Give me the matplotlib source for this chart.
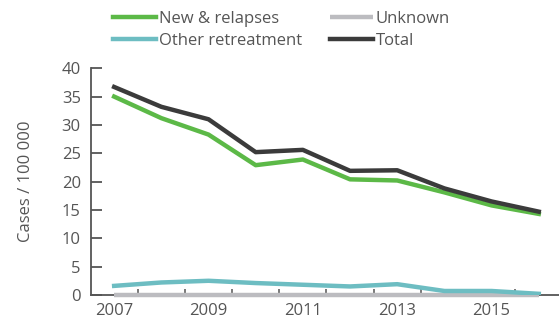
import numpy as np
import matplotlib.pyplot as plt

# Data
years = [2007, 2008, 2009, 2010, 2011, 2012, 2013, 2014, 2015, 2016]
new_relapses = [35.0, 31.2, 28.3, 22.9, 23.9, 20.4, 20.2, 18.1, 15.8, 14.3]
other_retreat = [1.6, 2.2, 2.5, 2.1, 1.8, 1.5, 1.9, 0.7, 0.7, 0.2]
unknown = [0, 0, 0, 0, 0, 0, 0, 0, 0, 0]
total = [36.7, 33.2, 31.0, 25.2, 25.6, 21.9, 22.0, 18.8, 16.5, 14.7]
xlabels = ['2007', '2009', '2011', '2013', '2015']

txt = '#555555'
plt.rcParams['font.family'] = ['Open Sans', 'DejaVu Sans']

fig = plt.figure(figsize=(5.59, 3.22), dpi=100)
ax = fig.add_axes([0.162, 0.084, 0.844, 0.704])

ax.plot(years, unknown, color='#bcbcc0', lw=3.2, solid_capstyle='butt',
        label='Unknown', zorder=3, clip_on=False)
ax.plot(years, other_retreat, color='#6dbdc2', lw=3.2, label='Other retreatment', zorder=3)
ax.plot(years, new_relapses, color='#5cb947', lw=3.2, label='New & relapses', zorder=4)
ax.plot(years, total, color='#3b3b3b', lw=3.2, label='Total', zorder=5)

ax.set_xlim(2006.5, 2016.5)
ax.set_ylim(0, 40)
ax.set_yticks(np.arange(0, 41, 5))
ax.set_xticks([int(s) for s in xlabels])
ax.set_xticklabels(xlabels)
ax.set_xticks(np.arange(2007.5, 2016, 1), minor=True)

for s in ['top', 'right']:
    ax.spines[s].set_visible(False)
for s in ['left', 'bottom']:
    ax.spines[s].set_color(txt)
    ax.spines[s].set_linewidth(1.3)

ax.tick_params(axis='y', direction='in', length=8, width=1.3, color=txt,
               labelcolor=txt, labelsize=12, pad=7)
ax.tick_params(axis='x', which='major', length=0, labelcolor=txt, labelsize=12, pad=6)
ax.tick_params(axis='x', which='minor', direction='in', length=4, width=1.1, color=txt)
ax.set_ylabel('Cases / 100 000', color=txt, fontsize=12, labelpad=20)

h, l = ax.get_legend_handles_labels()
order = [2, 1, 0, 3]
leg = fig.legend([h[i] for i in order], [l[i] for i in order], ncol=2,
                 loc='upper left', bbox_to_anchor=(0.175, 1.012), frameon=False,
                 fontsize=12, handlelength=2.6, handletextpad=0.15,
                 columnspacing=1.7, labelspacing=0.35)
for t in leg.get_texts():
    t.set_color(txt)

fig.savefig('out.png', dpi=100)
